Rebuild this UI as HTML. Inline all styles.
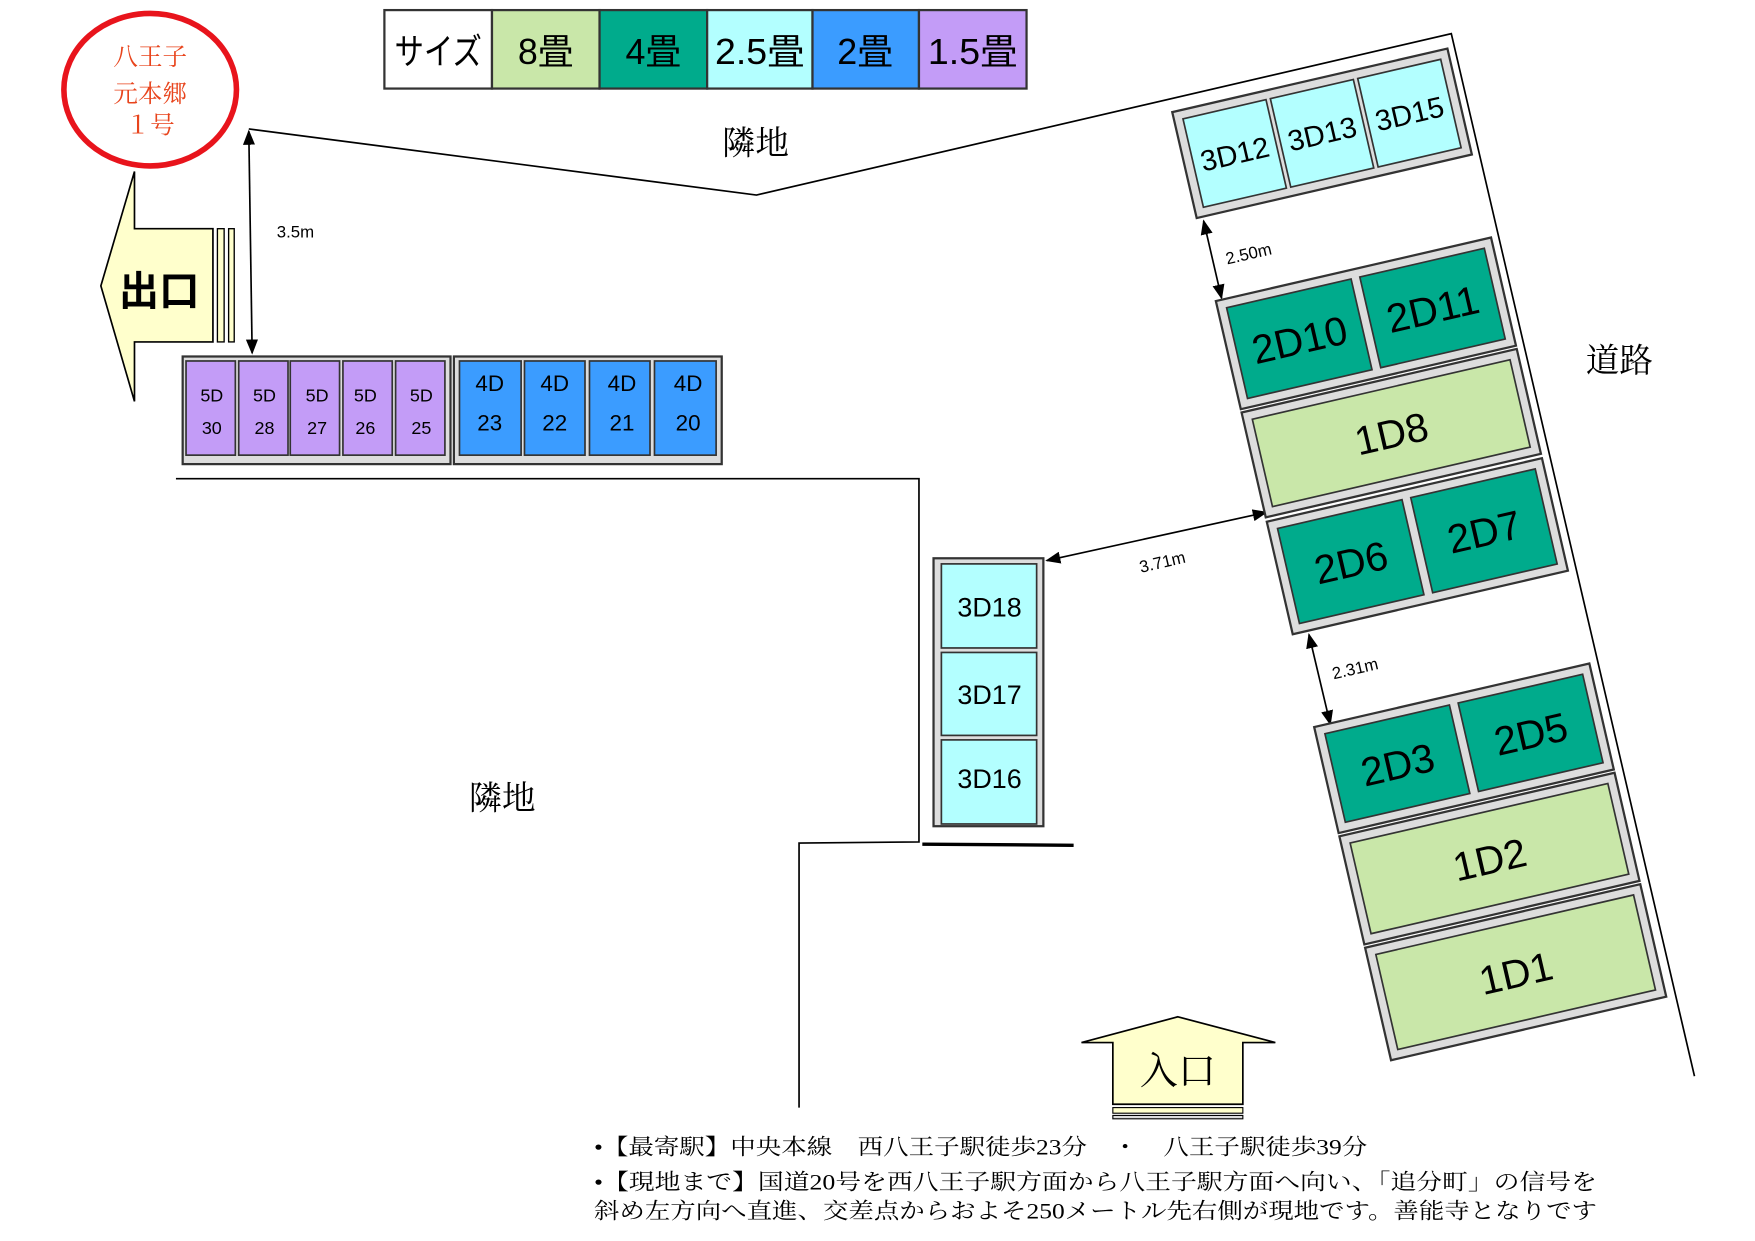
<!DOCTYPE html>
<html><head><meta charset="utf-8"><style>html,body{margin:0;padding:0;background:#fff}svg{display:block}</style></head>
<body>
<svg width="1755" height="1241" viewBox="0 0 1566 1107" preserveAspectRatio="none" xmlns="http://www.w3.org/2000/svg" font-family="'Liberation Sans','Noto Sans CJK JP',sans-serif">
<defs>
<marker id="ah" viewBox="0 0 10 10" refX="9" refY="5" markerWidth="9" markerHeight="9" orient="auto-start-reverse"><path d="M0,1 L10,5 L0,9 z" fill="#000"/></marker>
</defs>
<!-- legend -->
<g stroke="#333" stroke-width="2">
<rect x="343" y="9" width="96" height="70" fill="#fff"/>
<rect x="439" y="9" width="96" height="70" fill="#c9e7a9"/>
<rect x="535" y="9" width="96" height="70" fill="#00ab8c"/>
<rect x="631" y="9" width="94" height="70" fill="#b3ffff"/>
<rect x="725" y="9" width="95" height="70" fill="#3b9cff"/>
<rect x="820" y="9" width="96" height="70" fill="#c39cf7"/>
</g>
<g font-size="32" text-anchor="middle" fill="#000">
<text x="391" y="57" textLength="78" lengthAdjust="spacingAndGlyphs">サイズ</text><text x="487" y="57">8畳</text><text x="583" y="57">4畳</text><text x="678" y="57" textLength="80" lengthAdjust="spacingAndGlyphs">2.5畳</text><text x="772" y="57">2畳</text><text x="868" y="57" textLength="80" lengthAdjust="spacingAndGlyphs">1.5畳</text>
</g>
<!-- circle -->
<ellipse cx="134" cy="80" rx="77" ry="68" fill="#fff" stroke="#e8141c" stroke-width="5"/>
<g fill="#e8441c" font-size="22" text-anchor="middle" font-family="'Liberation Serif','Noto Serif CJK SC',serif">
<text x="134" y="58">八王子</text><text x="134" y="91">元本郷</text><text x="134" y="119">１号</text></g>
<!-- exit arrow -->
<path d="M120,153 L120,204 L190,204 L190,305 L120,305 L120,358 L90,255 Z" fill="#ffffcc" stroke="#000" stroke-width="1.5"/>
<rect x="194" y="204" width="6" height="101" fill="#ffffcc" stroke="#000" stroke-width="1.2"/>
<rect x="204" y="204" width="5" height="101" fill="#ffffcc" stroke="#000" stroke-width="1.2"/>
<text x="142" y="272" font-size="36" font-weight="bold" text-anchor="middle">出口</text>
<!-- boundary lines -->
<polyline points="222,115 675,174 1295,30 1512,960" fill="none" stroke="#000" stroke-width="1.5"/>
<polyline points="157,427 820,427 820,751 713,752 713,988" fill="none" stroke="#000" stroke-width="1.5"/>
<line x1="823" y1="753" x2="958" y2="754" stroke="#000" stroke-width="3"/>
<text x="674" y="138" font-size="30" text-anchor="middle" font-family="'Liberation Serif','Noto Serif CJK SC',serif">隣地</text>
<text x="448" y="722" font-size="30" text-anchor="middle" font-family="'Liberation Serif','Noto Serif CJK SC',serif">隣地</text>
<text x="1445" y="332" font-size="30" text-anchor="middle" font-family="'Liberation Serif','Noto Serif CJK SC',serif">道路</text>
<!-- dimension arrows -->
<g stroke="#000" stroke-width="1.5" marker-start="url(#ah)" marker-end="url(#ah)">
<line x1="222" y1="117" x2="225" y2="315"/>
<line x1="934" y1="500" x2="1130" y2="457"/>
<line x1="1074" y1="197" x2="1090" y2="266"/>
<line x1="1168" y1="566" x2="1187" y2="646"/>
</g>
<g font-size="15">
<text x="247" y="212">3.5m</text>
<text x="1018" y="511" transform="rotate(-13 1018 511)">3.71m</text>
<text x="1095" y="236" transform="rotate(-13 1095 236)">2.50m</text>
<text x="1190" y="606" transform="rotate(-13 1190 606)">2.31m</text>
</g>
<!-- left row -->
<rect x="163" y="318" width="239" height="96" fill="#ddd" stroke="#333" stroke-width="2"/>
<rect x="405" y="318" width="239" height="96" fill="#ddd" stroke="#333" stroke-width="2"/>
<g fill="#c39cf7" stroke="#333" stroke-width="1.5">
<rect x="166" y="322" width="44" height="84"/><rect x="213" y="322" width="44" height="84"/><rect x="259" y="322" width="44" height="84"/><rect x="306" y="322" width="44" height="84"/><rect x="353" y="322" width="44" height="84"/>
</g>
<g fill="#3b9cff" stroke="#333" stroke-width="1.5">
<rect x="410" y="322" width="55" height="84"/><rect x="468" y="322" width="54" height="84"/><rect x="526" y="322" width="54" height="84"/><rect x="584" y="322" width="55" height="84"/>
</g>
<g font-size="16" text-anchor="middle">
<text x="189" y="358">5D</text><text x="189" y="387">30</text>
<text x="236" y="358">5D</text><text x="236" y="387">28</text>
<text x="283" y="358">5D</text><text x="283" y="387">27</text>
<text x="326" y="358">5D</text><text x="326" y="387">26</text>
<text x="376" y="358">5D</text><text x="376" y="387">25</text>
</g>
<g font-size="20" text-anchor="middle">
<text x="437" y="349">4D</text><text x="437" y="384">23</text>
<text x="495" y="349">4D</text><text x="495" y="384">22</text>
<text x="555" y="349">4D</text><text x="555" y="384">21</text>
<text x="614" y="349">4D</text><text x="614" y="384">20</text>
</g>
<!-- 3D16-18 -->
<rect x="833" y="498" width="98" height="239" fill="#ddd" stroke="#333" stroke-width="2"/>
<g fill="#b3ffff" stroke="#333" stroke-width="1.5">
<rect x="840" y="503" width="85" height="75"/><rect x="840" y="582" width="85" height="74"/><rect x="840" y="660" width="85" height="75"/>
</g>
<g font-size="24" text-anchor="middle"><text x="883" y="550">3D18</text><text x="883" y="628">3D17</text><text x="883" y="703">3D16</text></g>
<!-- right rotated column -->
<g transform="translate(1046,100) rotate(-13)">
<g fill="#ddd" stroke="#333" stroke-width="2">
<rect x="0" y="0" width="252" height="97"/>
<rect x="0" y="173" width="252" height="99"/>
<rect x="0" y="275" width="252" height="96"/>
<rect x="0" y="375" width="252" height="103"/>
<rect x="0" y="563" width="252" height="97"/>
<rect x="0" y="663" width="252" height="99"/>
<rect x="0" y="765" width="252" height="103"/>
</g>
<g fill="#b3ffff" stroke="#333" stroke-width="1.5">
<rect x="8" y="8" width="76" height="81"/><rect x="88" y="8" width="76" height="81"/><rect x="168" y="8" width="76" height="81"/>
</g>
<g fill="#00ab8c" stroke="#333" stroke-width="1.5">
<rect x="8" y="181" width="114" height="83"/><rect x="130" y="181" width="114" height="83"/>
<rect x="8" y="383" width="114" height="87"/><rect x="130" y="383" width="114" height="87"/>
<rect x="8" y="571" width="114" height="81"/><rect x="130" y="571" width="114" height="81"/>
</g>
<g fill="#c9e7a9" stroke="#333" stroke-width="1.5">
<rect x="8" y="283" width="236" height="80"/>
<rect x="8" y="671" width="236" height="83"/>
<rect x="8" y="773" width="236" height="87"/>
</g>
<g font-size="26" text-anchor="middle"><text x="46" y="58">3D12</text><text x="126" y="58">3D13</text><text x="206" y="58">3D15</text></g>
<g font-size="36" text-anchor="middle">
<text x="65" y="236">2D10</text><text x="187" y="236">2D11</text>
<text x="126" y="336">1D8</text>
<text x="65" y="440">2D6</text><text x="187" y="440">2D7</text>
<text x="65" y="625">2D3</text><text x="187" y="625">2D5</text>
<text x="126" y="726">1D2</text>
<text x="126" y="830">1D1</text>
</g>
</g>
<!-- entry arrow -->
<path d="M1051,907 L1138,930 L1109,930 L1109,985 L993,985 L993,930 L965,930 Z" fill="#ffffcc" stroke="#000" stroke-width="1.5"/>
<rect x="993" y="988" width="116" height="5" fill="#ffffcc" stroke="#000" stroke-width="1"/>
<rect x="993" y="995" width="116" height="3" fill="#ddd" stroke="#000" stroke-width="1"/>
<text x="1051" y="967" font-size="34" text-anchor="middle" font-family="'Liberation Serif','Noto Serif CJK SC',serif">入口</text>
<!-- bottom text -->
<g font-size="20" font-family="'Liberation Serif','Noto Serif CJK SC',serif">
<text x="530" y="1030" textLength="690" lengthAdjust="spacingAndGlyphs">•【最寄駅】中央本線　西八王子駅徒歩23分　・　八王子駅徒歩39分</text>
<text x="530" y="1061" textLength="895" lengthAdjust="spacingAndGlyphs">•【現地まで】国道20号を西八王子駅方面から八王子駅方面へ向い、「追分町」の信号を</text>
<text x="530" y="1087" textLength="895" lengthAdjust="spacingAndGlyphs">斜め左方向へ直進、交差点からおよそ250メートル先右側が現地です。善能寺となりです</text>
</g>
</svg>
</body></html>
